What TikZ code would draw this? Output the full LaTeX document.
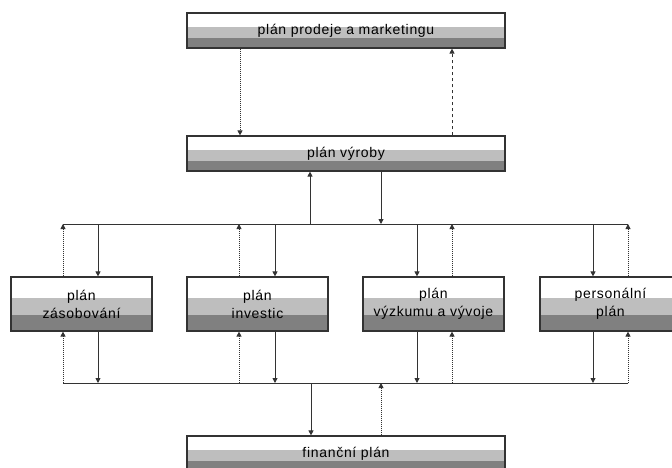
\documentclass[tikz,border=0pt]{standalone}
\usepackage{fontspec}
\setmainfont{Liberation Sans}[LetterSpace=5]
\usetikzlibrary{arrows.meta}
\definecolor{lightband}{HTML}{BEBEBE}
\definecolor{darkband}{HTML}{808080}
\definecolor{edge}{HTML}{333333}
\definecolor{wirecol}{HTML}{333333}
\tikzset{
  bands/.style 2 args={path picture={
    \fill[lightband] ([yshift=#1]path picture bounding box.south west) rectangle ([yshift=#2]path picture bounding box.south east);
    \fill[darkband] (path picture bounding box.south west) rectangle ([yshift=#1]path picture bounding box.south east);}},
  planbox/.style={draw=edge, line width=1.2pt, inner sep=0pt, align=center,
    font=\fontsize{14}{18}\selectfont},
  wide/.style={planbox, minimum width=318pt, minimum height=35pt, bands={10pt}{21pt}},
  small/.style={planbox, minimum width=141pt, minimum height=54pt, bands={16pt}{33pt}},
  wire/.style={draw=wirecol, line width=0.9pt},
  arr/.style={wire, -{Triangle[length=5pt,width=5pt]}},
  dotline/.style={dash pattern=on 1pt off 1pt},
  dashline/.style={dash pattern=on 3pt off 3pt}
}
\begin{document}
\begin{tikzpicture}[x=1pt,y=-1pt]
\clip (0,0) rectangle (672,468);
\useasboundingbox (0,0) rectangle (672,468);
\fill[white] (0,0) rectangle (672,468);

% boxes
\node[wide] (top) at (346,30.5) {plán prodeje a marketingu};
\node[wide] (vyroba) at (346,153.5) {plán výroby};
\node[small] (b1) at (81.5,304) {plán\\zásobování};
\node[small] (b2) at (257.5,304) {plán\\investic};
\node[small] (b3) at (433.5,304) {plán\\výzkumu a vývoje};
\node[small] (b4) at (610.5,304) {personální\\plán};
\node[wide] (fin) at (346,453.5) {finanční plán};

% column coordinates
\coordinate (t1) at (240,100);
\coordinate (t2) at (452,100);
\coordinate (v1) at (310,224);
\coordinate (v2) at (381,224);
\coordinate (u1) at (63,224);
\coordinate (u2) at (239,224);
\coordinate (u3) at (452,224);
\coordinate (u4) at (628,224);
\coordinate (d1) at (98,224);
\coordinate (d2) at (275,224);
\coordinate (d3) at (417,224);
\coordinate (d4) at (593,224);
\coordinate (f1) at (63,383);
\coordinate (f2) at (239,383);
\coordinate (f3) at (452,383);
\coordinate (f4) at (628,383);
\coordinate (e1) at (98,383);
\coordinate (e2) at (275,383);
\coordinate (e3) at (417,383);
\coordinate (e4) at (593,383);
\coordinate (g1) at (311,383);
\coordinate (g2) at (381,383);

% top <-> vyroba
\draw[arr,dotline] (top.south -| t1) -- (vyroba.north -| t1);
\draw[arr,dashline] (vyroba.north -| t2) -- (top.south -| t2);

% buses
\draw[wire] (u1) -- (u4);
\draw[wire] (f1) -- (f4);

% vyroba <-> top bus
\draw[arr] (v1) -- (vyroba.south -| v1);
\draw[arr] (vyroba.south -| v2) -- (v2);

% top bus <-> boxes
\draw[arr,dotline] (b1.north -| u1) -- (u1);
\draw[arr,dotline] (b2.north -| u2) -- (u2);
\draw[arr,dotline] (b3.north -| u3) -- (u3);
\draw[arr,dotline] (b4.north -| u4) -- (u4);
\draw[arr] (d1) -- (b1.north -| d1);
\draw[arr] (d2) -- (b2.north -| d2);
\draw[arr] (d3) -- (b3.north -| d3);
\draw[arr] (d4) -- (b4.north -| d4);

% boxes <-> bottom bus
\draw[arr,dotline] (f1) -- (b1.south -| f1);
\draw[arr,dotline] (f2) -- (b2.south -| f2);
\draw[arr,dotline] (f3) -- (b3.south -| f3);
\draw[arr,dotline] (f4) -- (b4.south -| f4);
\draw[arr] (b1.south -| e1) -- (e1);
\draw[arr] (b2.south -| e2) -- (e2);
\draw[arr] (b3.south -| e3) -- (e3);
\draw[arr] (b4.south -| e4) -- (e4);

% bottom bus <-> finance
\draw[arr] (g1) -- (fin.north -| g1);
\draw[arr,dotline] (fin.north -| g2) -- (g2);
\end{tikzpicture}
\end{document}
